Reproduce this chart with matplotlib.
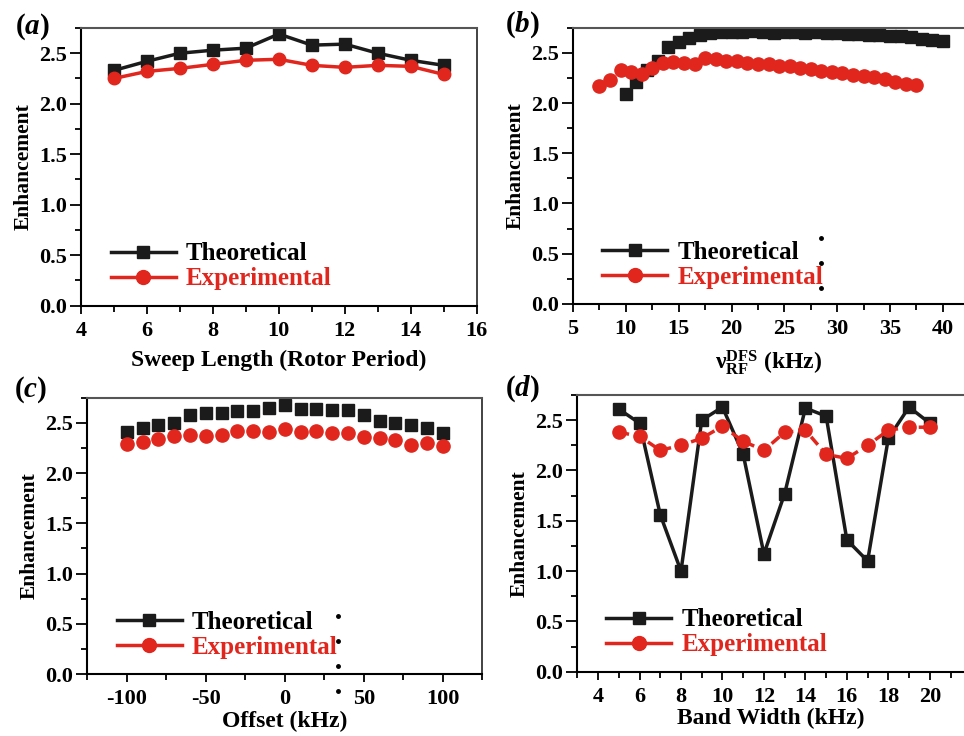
import numpy as np
import matplotlib
matplotlib.use('Agg')
import matplotlib.pyplot as plt
from matplotlib.lines import Line2D
from matplotlib.ticker import MultipleLocator, FormatStrFormatter

plt.rcParams['font.family'] = ['Liberation Serif', 'DejaVu Serif']
plt.rcParams['font.weight'] = 'bold'
plt.rcParams['axes.labelweight'] = 'bold'
plt.rcParams['axes.unicode_minus'] = False
plt.rcParams['mathtext.fontset'] = 'custom'
plt.rcParams['mathtext.rm'] = 'Liberation Serif:bold'
plt.rcParams['mathtext.it'] = 'Liberation Serif:bold:italic'
plt.rcParams['mathtext.bf'] = 'Liberation Serif:bold'

BLACK = '#1b1b1b'
RED = '#e0261d'

# (a) sweep length
a_x = [5, 6, 7, 8, 9, 10, 11, 12, 13, 14, 15]
a_theo = [2.33, 2.42, 2.50, 2.53, 2.55, 2.69, 2.58, 2.59, 2.50, 2.43, 2.38]
a_exp = [2.25, 2.32, 2.35, 2.39, 2.43, 2.44, 2.38, 2.36, 2.38, 2.37, 2.29]

# (b) RF field
b_x_theo = list(range(10, 41))
b_theo = [2.09, 2.21, 2.33, 2.42, 2.56, 2.61, 2.65, 2.68, 2.70, 2.71,
          2.71, 2.71, 2.72, 2.71, 2.70, 2.71, 2.71, 2.70, 2.71, 2.70,
          2.70, 2.69, 2.69, 2.68, 2.68, 2.67, 2.67, 2.66, 2.64, 2.63, 2.62]
b_x_exp = [7.5 + i for i in range(31)]
b_exp = [2.17, 2.23, 2.33, 2.31, 2.29, 2.35, 2.40, 2.41, 2.40, 2.39,
         2.45, 2.44, 2.42, 2.42, 2.40, 2.39, 2.39, 2.37, 2.37, 2.35,
         2.34, 2.32, 2.31, 2.30, 2.28, 2.27, 2.26, 2.24, 2.21, 2.19, 2.18]

# (c) offset
c_x = list(range(-100, 101, 10))
c_theo = [2.41, 2.45, 2.48, 2.50, 2.58, 2.60, 2.60, 2.62, 2.62, 2.65, 2.68,
          2.64, 2.64, 2.63, 2.63, 2.58, 2.52, 2.50, 2.48, 2.45, 2.40]
c_exp = [2.29, 2.31, 2.34, 2.37, 2.38, 2.37, 2.38, 2.42, 2.42, 2.41, 2.44,
         2.41, 2.42, 2.40, 2.40, 2.36, 2.35, 2.33, 2.28, 2.30, 2.27]

# (d) band width
d_x = list(range(5, 21))
d_theo = [2.61, 2.47, 1.56, 1.00, 2.50, 2.63, 2.16, 1.17, 1.77, 2.62,
          2.54, 1.31, 1.10, 2.32, 2.63, 2.47]
d_exp = [2.38, 2.34, 2.20, 2.25, 2.32, 2.44, 2.29, 2.20, 2.38, 2.40,
         2.16, 2.12, 2.25, 2.40, 2.43, 2.43]

# stray dots in the original figure
b_dots_x = [28.5, 28.5, 28.5]
b_dots_y = [0.66, 0.41, 0.16]
c_dots_x = [33.5, 33.5, 33.5, 33.5]
c_dots_y = [0.58, 0.33, 0.08, -0.17]

fig = plt.figure(figsize=(9.64, 7.36), dpi=100)
ax_a = fig.add_axes([0.084, 0.5846, 0.4105, 0.3774])
ax_b = fig.add_axes([0.5944, 0.587, 0.4056, 0.3754])
ax_c = fig.add_axes([0.0906, 0.0842, 0.4097, 0.3754])
ax_d = fig.add_axes([0.5989, 0.0874, 0.4011, 0.3759])


def style(ax, xlim, major, minor, xlabel, right=True, xpad=6):
	ax.set_xlim(*xlim)
	ax.set_ylim(0, 2.75)
	ax.xaxis.set_major_locator(MultipleLocator(major))
	ax.xaxis.set_minor_locator(MultipleLocator(minor))
	ax.yaxis.set_major_locator(MultipleLocator(0.5))
	ax.yaxis.set_minor_locator(MultipleLocator(0.25))
	ax.yaxis.set_major_formatter(FormatStrFormatter('%.1f'))
	ax.tick_params(which='major', direction='out', width=1.3, labelsize=16)
	ax.tick_params(which='minor', direction='out', length=4, width=1.3)
	ax.tick_params(axis='y', which='major', length=8, pad=2)
	ax.tick_params(axis='x', which='major', length=6, pad=5)
	for side in ['left', 'bottom']:
		ax.spines[side].set_linewidth(1.5)
		ax.spines[side].set_color('black')
	ax.spines['top'].set_color('#555555')
	ax.spines['top'].set_linewidth(1.5)
	ax.spines['right'].set_color('#222222')
	ax.spines['right'].set_linewidth(1.2)
	ax.spines['right'].set_visible(right)
	ax.set_xlabel(xlabel, fontsize=17, labelpad=xpad)
	ax.set_ylabel('Enhancement', fontsize=15.5, labelpad=4)
	handles = [Line2D([], [], color=BLACK, lw=2.5, marker='s', ms=9),
	           Line2D([], [], color=RED, lw=2.5, marker='o', ms=10)]
	leg = ax.legend(handles, ['Theoretical', 'Experimental'], loc='lower left',
	                bbox_to_anchor=(0.075, 0.055), frameon=False, fontsize=18,
	                handlelength=2.6, handletextpad=0.4, labelspacing=0.08,
	                borderaxespad=0, borderpad=0)
	leg.get_texts()[1].set_color(RED)


ax_a.plot(a_x, a_theo, color=BLACK, lw=2.5, marker='s', ms=8)
ax_a.plot(a_x, a_exp, color=RED, lw=2.5, marker='o', ms=9)
style(ax_a, (4, 16), 2, 1, 'Sweep Length (Rotor Period)')

ax_b.plot(b_x_theo, b_theo, ls='none', color=BLACK, marker='s', ms=8)
ax_b.plot(b_x_exp, b_exp, ls='none', color=RED, marker='o', ms=9.5)
ax_b.plot(b_dots_x, b_dots_y, ls='none', color='black', marker='o', ms=2.5)
style(ax_b, (5, 42), 5, 2.5, r'$\mathrm{\nu}_{\mathrm{RF}}^{\mathrm{DFS}}$ (kHz)', right=False)

ax_c.plot(c_x, c_theo, ls='none', color=BLACK, marker='s', ms=8)
ax_c.plot(c_x, c_exp, ls='none', color=RED, marker='o', ms=9.5)
ax_c.plot(c_dots_x, c_dots_y, ls='none', color='black', marker='o', ms=2.5, clip_on=False)
style(ax_c, (-125, 125), 50, 25, 'Offset (kHz)', xpad=1)

ax_d.plot(d_x, d_theo, color=BLACK, lw=2.5, marker='s', ms=8)
ax_d.plot(d_x, d_exp, color=RED, lw=2.5, ls=(0, (3, 1.5)), marker='o', ms=9.5)
style(ax_d, (3, 21.65), 2, 1, 'Band Width (kHz)', right=False, xpad=1)

# panel letters, figure pixel positions
for lab, px, py in [('a', 15, 27), ('b', 505, 25), ('c', 14, 390), ('d', 505, 389)]:
	fig.text(px / 964, 1 - py / 736, r'$(\mathit{%s})$' % lab, fontsize=21, va='center', ha='left')

fig.savefig('out.png', dpi=100)
